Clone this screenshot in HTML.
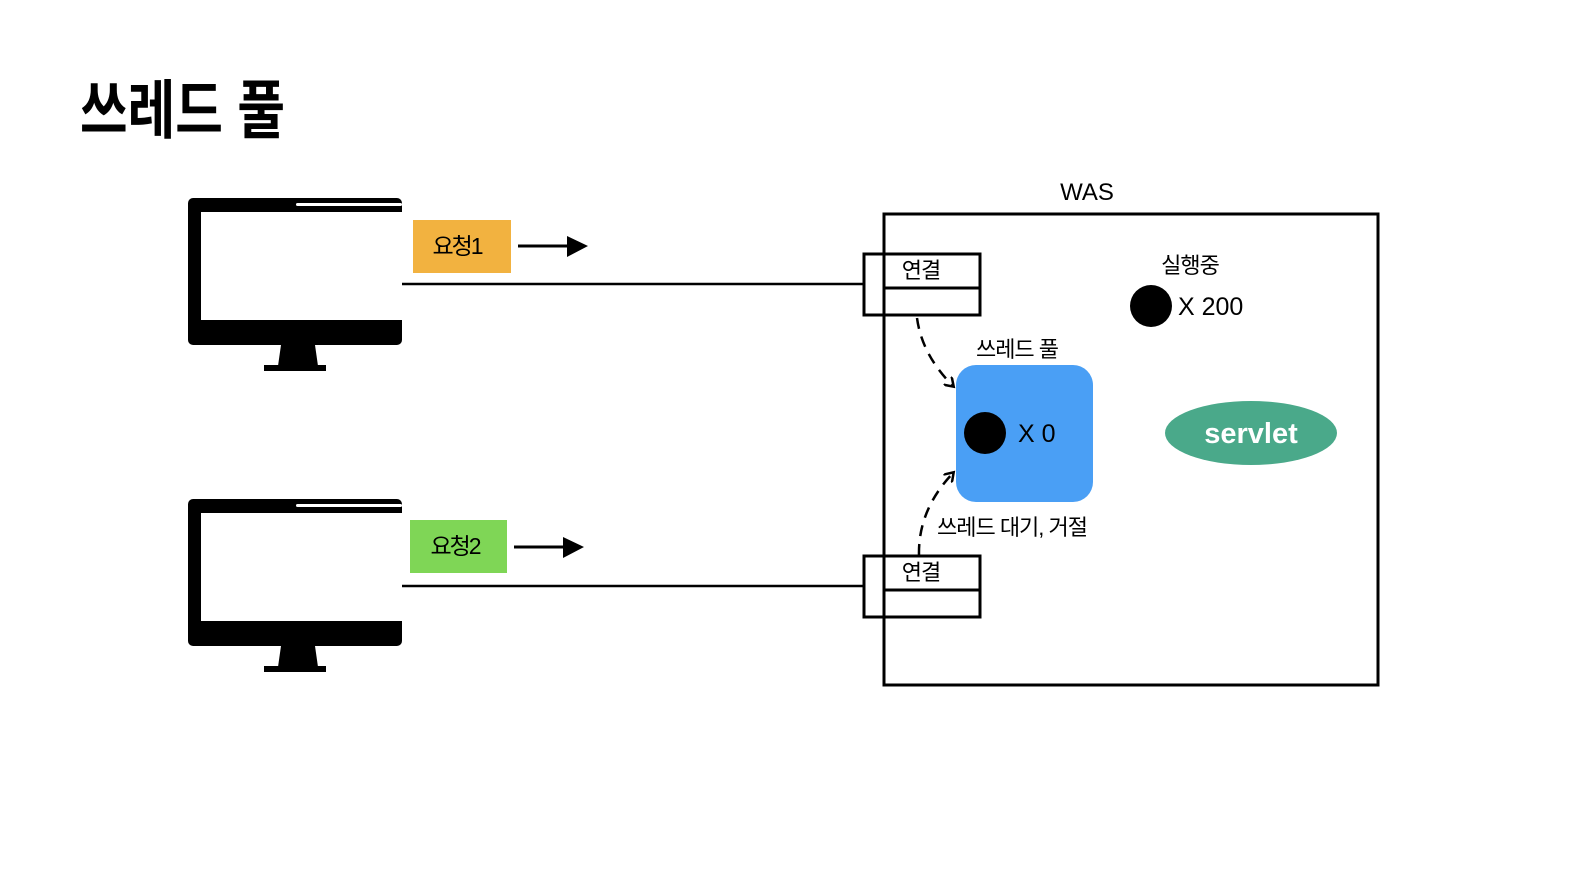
<!DOCTYPE html>
<html><head><meta charset="utf-8"><style>
html,body{margin:0;padding:0;background:#fff;overflow:hidden;width:1583px;height:890px;}
svg{display:block;}
text{font-family:"Liberation Sans","Noto Sans CJK KR",sans-serif;}
</style></head><body>
<svg width="1583" height="890" viewBox="0 0 1583 890" xmlns="http://www.w3.org/2000/svg">
<defs>
<marker id="ah" markerWidth="12" markerHeight="12" refX="8" refY="6" orient="auto" markerUnits="userSpaceOnUse">
<path d="M0,0 L9,6 L0,12" fill="none" stroke="#000" stroke-width="2.5"/>
</marker>
<g id="mon">
<rect x="188" y="198" width="214" height="147" rx="5" fill="#000"/>
<rect x="201" y="212" width="201" height="108" fill="#fff"/>
<rect x="296" y="203" width="106" height="3" rx="1.5" fill="#fff"/>
<path d="M281,345 L315,345 L318,366 L278,366 Z" fill="#000"/>
<rect x="264" y="365" width="62" height="6" fill="#000"/>
</g>
</defs>
<text x="80" y="133" font-size="64" font-weight="bold" textLength="205" lengthAdjust="spacingAndGlyphs" fill="#000">쓰레드 풀</text>

<use href="#mon"/>
<use href="#mon" transform="translate(0,301)"/>

<rect x="413" y="220" width="98" height="53" fill="#f2b240"/>
<text x="457" y="254" font-size="23" text-anchor="middle" letter-spacing="-2">요청1</text>
<rect x="410" y="520" width="97" height="53" fill="#7fd656"/>
<text x="455" y="554" font-size="23" text-anchor="middle" letter-spacing="-2">요청2</text>

<line x1="518" y1="246" x2="570" y2="246" stroke="#000" stroke-width="3"/>
<path d="M567,236 L588,246 L567,257 Z" fill="#000"/>
<line x1="514" y1="547" x2="566" y2="547" stroke="#000" stroke-width="3"/>
<path d="M563,537 L584,547 L563,558 Z" fill="#000"/>

<line x1="402" y1="284" x2="864" y2="284" stroke="#000" stroke-width="2.5"/>
<line x1="402" y1="586" x2="864" y2="586" stroke="#000" stroke-width="2.5"/>

<text x="1087" y="200" font-size="24" text-anchor="middle">WAS</text>
<rect x="884" y="214" width="494" height="471" fill="none" stroke="#000" stroke-width="3"/>

<rect x="864" y="254" width="116" height="61" fill="#fff" stroke="#000" stroke-width="3"/>
<line x1="884" y1="254" x2="884" y2="315" stroke="#000" stroke-width="3"/>
<line x1="884" y1="288" x2="980" y2="288" stroke="#000" stroke-width="3"/>
<text x="921" y="278" font-size="22" text-anchor="middle" letter-spacing="-1">연결</text>

<rect x="864" y="556" width="116" height="61" fill="#fff" stroke="#000" stroke-width="3"/>
<line x1="884" y1="556" x2="884" y2="617" stroke="#000" stroke-width="3"/>
<line x1="884" y1="590" x2="980" y2="590" stroke="#000" stroke-width="3"/>
<text x="921" y="580" font-size="22" text-anchor="middle" letter-spacing="-1">연결</text>

<path d="M917,318 Q922,355 953,386" fill="none" stroke="#000" stroke-width="2.5" stroke-dasharray="11,8" marker-end="url(#ah)"/>
<path d="M919,555 Q918,510 953,473" fill="none" stroke="#000" stroke-width="2.5" stroke-dasharray="11,8" marker-end="url(#ah)"/>

<text x="1017" y="357" font-size="22" text-anchor="middle" letter-spacing="-1">쓰레드 풀</text>
<rect x="956" y="365" width="137" height="137" rx="20" fill="#4a9ff5"/>
<circle cx="985" cy="433" r="21" fill="#000"/>
<text x="1018" y="442" font-size="25">X 0</text>
<text x="1012" y="535" font-size="22" text-anchor="middle" letter-spacing="-1">쓰레드 대기, 거절</text>

<text x="1190" y="273" font-size="22" text-anchor="middle" letter-spacing="-1">실행중</text>
<circle cx="1151" cy="306" r="21" fill="#000"/>
<text x="1178" y="315" font-size="25">X 200</text>

<ellipse cx="1251" cy="433" rx="86" ry="32" fill="#4aa98a"/>
<text x="1251" y="443" font-size="29" font-weight="bold" fill="#fff" text-anchor="middle">servlet</text>
</svg>
</body></html>
